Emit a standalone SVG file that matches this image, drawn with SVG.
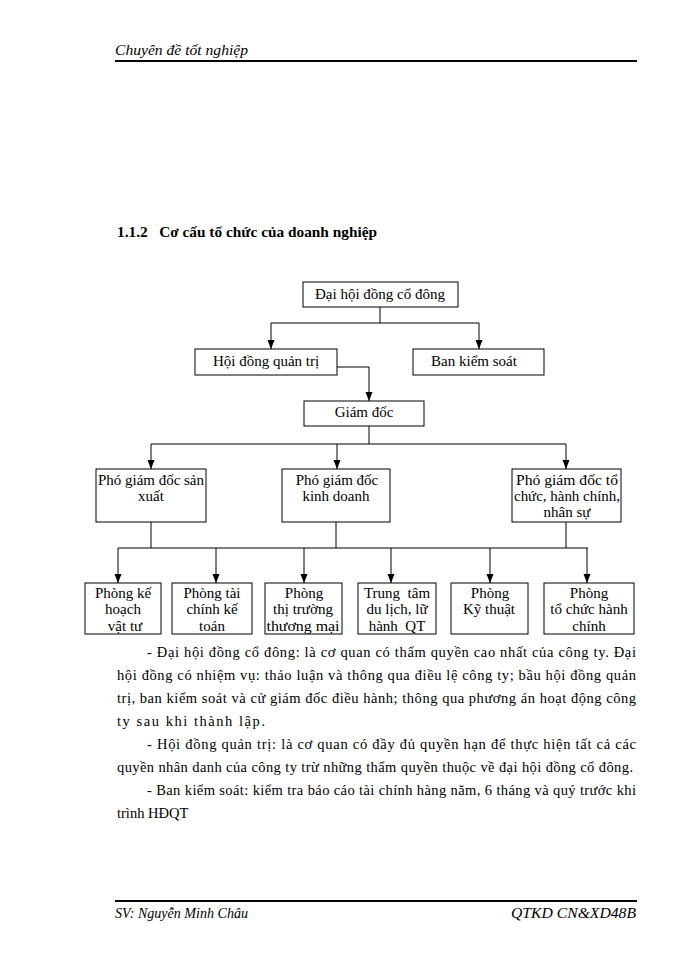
<svg xmlns="http://www.w3.org/2000/svg" width="700" height="960" viewBox="0 0 700 960">
<defs>
<style>
.box{fill:#fff;stroke:#000;stroke-width:1}
.t{font-family:"Liberation Serif","Times New Roman",serif;font-size:15px;fill:#000;text-anchor:middle}
.p{font-family:"Liberation Serif","Times New Roman",serif;font-size:14.5px;fill:#000}
.h{font-family:"Liberation Serif","Times New Roman",serif;font-style:italic;font-size:15px;fill:#000}
.c{fill:none;stroke:#000;stroke-width:1}
</style>
<marker id="arr" markerUnits="userSpaceOnUse" markerWidth="10" markerHeight="8" refX="9" refY="3.5" orient="auto">
<path d="M0,0 L9,3.5 L0,7 z" fill="#000"/>
</marker>
</defs>
<rect width="700" height="960" fill="#fff"/>
<text class="h" x="115" y="55" textLength="133" lengthAdjust="spacingAndGlyphs">Chuyên đề tốt nghiệp</text>
<line x1="115" y1="61" x2="637" y2="61" stroke="#000" stroke-width="2"/>
<line x1="115" y1="901" x2="637" y2="901" stroke="#000" stroke-width="2"/>
<text class="h" x="115" y="918" textLength="133" lengthAdjust="spacingAndGlyphs">SV: Nguyễn Minh Châu</text>
<text class="h" x="511" y="918" textLength="125" lengthAdjust="spacingAndGlyphs">QTKD CN&amp;XD48B</text>
<text x="117" y="237" font-family="'Liberation Serif','Times New Roman',serif" font-weight="bold" font-size="15" textLength="260" lengthAdjust="spacingAndGlyphs" xml:space="preserve">1.1.2   Cơ cấu tổ chức của doanh nghiệp</text>

<g id="connectors">
<path class="c" d="M380,307 V323 M271,323 H479"/>
<path class="c" d="M271,323 V349" marker-end="url(#arr)"/>
<path class="c" d="M479,323 V349" marker-end="url(#arr)"/>
<path class="c" d="M337,367 H369 V401" marker-end="url(#arr)"/>
<path class="c" d="M369,426 V444 M151,444 H566"/>
<path class="c" d="M151,444 V469" marker-end="url(#arr)"/>
<path class="c" d="M337,444 V469" marker-end="url(#arr)"/>
<path class="c" d="M566,444 V469" marker-end="url(#arr)"/>
<path class="c" d="M151,522 V548 M336,522 V548 M566,522 V548 M118,548 H588"/>
<path class="c" d="M118,548 V583" marker-end="url(#arr)"/>
<path class="c" d="M216,548 V583" marker-end="url(#arr)"/>
<path class="c" d="M304,548 V583" marker-end="url(#arr)"/>
<path class="c" d="M391,548 V583" marker-end="url(#arr)"/>
<path class="c" d="M490,548 V583" marker-end="url(#arr)"/>
<path class="c" d="M587,548 V583" marker-end="url(#arr)"/>
</g>

<g id="dhdcd"><rect class="box" x="303" y="282" width="155" height="25"/><text class="t" x="380" y="299">Đại hội đồng cổ đông</text></g>
<g id="hdqt"><rect class="box" x="195" y="349" width="142" height="26"/><text class="t" x="266" y="366">Hội đồng quản trị</text></g>
<g id="bks"><rect class="box" x="413" y="349" width="131" height="26"/><text class="t" x="474" y="366">Ban kiểm soát</text></g>
<g id="gd"><rect class="box" x="304" y="401" width="120" height="25"/><text class="t" x="364" y="417">Giám đốc</text></g>

<g id="pgdsx"><rect class="box" x="96" y="469" width="110" height="53"/><text class="t" x="151" y="485" textLength="106" lengthAdjust="spacingAndGlyphs">Phó giám đốc sản</text><text class="t" x="151" y="501">xuất</text></g>
<g id="pgdkd"><rect class="box" x="282" y="469" width="108" height="53"/><text class="t" x="337" y="485">Phó giám đốc</text><text class="t" x="336" y="501">kinh doanh</text></g>
<g id="pgdtc"><rect class="box" x="512" y="469" width="109" height="53"/><text class="t" x="567" y="485" textLength="102" lengthAdjust="spacingAndGlyphs">Phó giám đốc tổ</text><text class="t" x="567" y="501" textLength="106" lengthAdjust="spacingAndGlyphs">chức, hành chính,</text><text class="t" x="567" y="517">nhân sự</text></g>

<g id="p1"><rect class="box" x="85" y="583" width="76" height="51"/><text class="t" x="123" y="598">Phòng kế</text><text class="t" x="123" y="614">hoạch</text><text class="t" x="125" y="631">vật tư</text></g>
<g id="p2"><rect class="box" x="172" y="583" width="80" height="51"/><text class="t" x="212" y="598">Phòng tài</text><text class="t" x="212" y="614">chính kế</text><text class="t" x="212" y="631">toán</text></g>
<g id="p3"><rect class="box" x="265" y="583" width="77" height="51"/><text class="t" x="304" y="598">Phòng</text><text class="t" x="303" y="614">thị trường</text><text class="t" x="303" y="631" textLength="73" lengthAdjust="spacingAndGlyphs">thương mại</text></g>
<g id="p4"><rect class="box" x="358" y="583" width="78" height="51"/><text class="t" x="397" y="598" xml:space="preserve">Trung  tâm</text><text class="t" x="397" y="614">du lịch, lữ</text><text class="t" x="397" y="631" xml:space="preserve">hành  QT</text></g>
<g id="p5"><rect class="box" x="451" y="583" width="77" height="51"/><text class="t" x="490" y="598">Phòng</text><text class="t" x="489" y="614">Kỹ thuật</text></g>
<g id="p6"><rect class="box" x="544" y="583" width="90" height="51"/><text class="t" x="589" y="598">Phòng</text><text class="t" x="589" y="614">tổ chức hành</text><text class="t" x="589" y="631">chính</text></g>

<g id="body">
<text class="p" x="147" y="657" textLength="489" lengthAdjust="spacing">- Đại hội đồng cổ đông: là cơ quan có thẩm quyền cao nhất của công ty. Đại</text>
<text class="p" x="117" y="680" textLength="519" lengthAdjust="spacing">hội đồng có nhiệm vụ: thảo luận và thông qua điều lệ công ty; bầu hội đồng quản</text>
<text class="p" x="117" y="703" textLength="519" lengthAdjust="spacing">trị, ban kiểm soát và cử giám đốc điều hành; thông qua phương án hoạt động công</text>
<text class="p" x="117" y="726" textLength="148" lengthAdjust="spacing">ty sau khi thành lập.</text>
<text class="p" x="147" y="749" textLength="489" lengthAdjust="spacing">- Hội đồng quản trị: là cơ quan có đầy đủ quyền hạn để thực hiện tất cả các</text>
<text class="p" x="117" y="772" textLength="516" lengthAdjust="spacing">quyền nhân danh của công ty trừ những thẩm quyền thuộc về đại hội đồng cổ đông.</text>
<text class="p" x="147" y="795" textLength="489" lengthAdjust="spacing">- Ban kiểm soát: kiểm tra báo cáo tài chính hàng năm, 6 tháng và quý trước khi</text>
<text class="p" x="117" y="818">trình HĐQT</text>
</g>
</svg>
